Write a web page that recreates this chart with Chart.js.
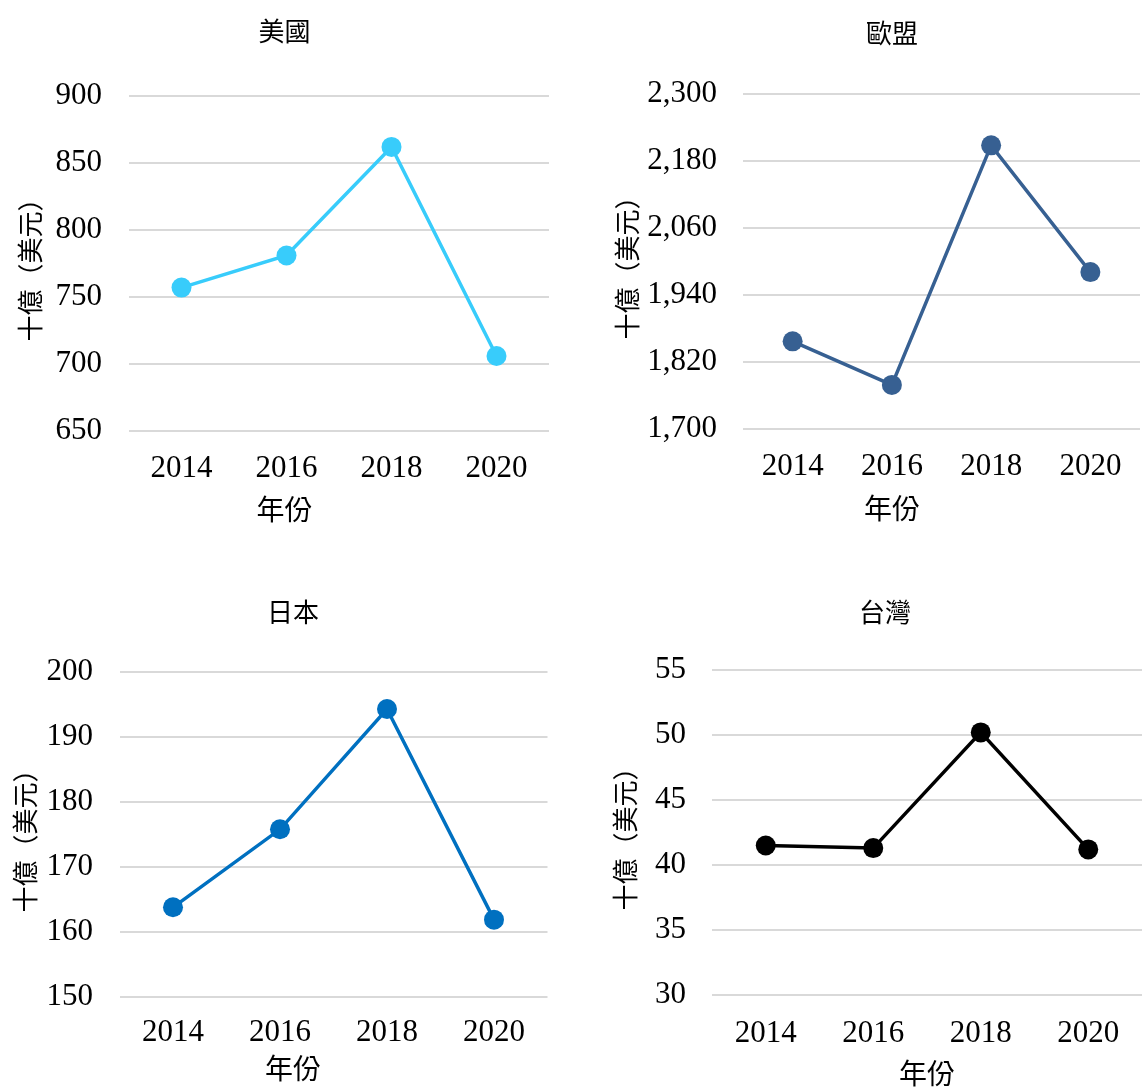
<!DOCTYPE html>
<html>
<head>
<meta charset="utf-8">
<script src="https://cdn.jsdelivr.net/npm/chart.js@4.4.0/dist/chart.umd.min.js"></script>
<style>
    html, body { margin: 0; padding: 0; background: #fff; overflow: hidden; width: 1143px; height: 1091px; }
    canvas { position: absolute; }
</style>
</head>
<body>
<canvas id="usChart" width="572" height="560" style="left:0px;top:0px"></canvas>
<canvas id="euChart" width="570" height="560" style="left:580px;top:0px"></canvas>
<canvas id="jpChart" width="572" height="511" style="left:0px;top:580px"></canvas>
<canvas id="twChart" width="572" height="511" style="left:580px;top:580px"></canvas>
<script>
var years = ['2014', '2016', '2018', '2020'];

var usValues = [757, 781, 862, 706];
var euValues = [1857, 1779, 2208, 1981];
var jpValues = [163.8, 175.8, 194.3, 161.9];
var twValues = [41.5, 41.3, 50.2, 41.2];

// y axis: min, max, step
var usRange = [650, 900, 50];
var euRange = [1700, 2300, 120];
var jpRange = [150, 200, 10];
var twRange = [30, 55, 5];

var yTitle = '十億（美元）';
var xTitle = '年份';

Chart.defaults.color = '#000';
Chart.defaults.font.family = "'Liberation Serif', 'Times New Roman', serif";
var cjkFont = "'Noto Sans CJK TC', 'Noto Sans CJK SC', sans-serif";

function DrawLineChart(id, title, values, range, color, lay) {
    var ctx = document.getElementById(id).getContext('2d');
    return new Chart(ctx, {
        type: 'line',
        data: {
            labels: years,
            datasets: [{
                data: values,
                borderColor: color,
                backgroundColor: color,
                pointBackgroundColor: color,
                borderWidth: 3.5,
                pointRadius: 10,
                pointHoverRadius: 10,
                pointBorderWidth: 0,
                tension: 0
            }]
        },
        options: {
            responsive: false,
            animation: false,
            locale: 'en-US',
            layout: {
                padding: { left: lay.padL, right: lay.padR, top: 0, bottom: lay.padB }
            },
            plugins: {
                legend: { display: false },
                tooltip: { enabled: false },
                title: {
                    display: true,
                    text: title,
                    font: { family: cjkFont, size: 26, weight: 'normal', lineHeight: 1.2 },
                    padding: { top: lay.titleTop, bottom: lay.titleBottom }
                },
                subtitle: {
                    display: !lay.xTitleOnScale,
                    position: 'bottom',
                    text: xTitle,
                    color: '#000',
                    font: { family: cjkFont, size: 28, weight: 'normal', lineHeight: 1.2 },
                    padding: { top: lay.subTop || 0, bottom: 0 }
                }
            },
            scales: {
                x: {
                    offset: true,
                    grid: { display: false, drawTicks: false },
                    border: { display: false },
                    ticks: { font: { size: 31 }, padding: lay.xPad, maxRotation: 0 },
                    title: {
                        display: !!lay.xTitleOnScale,
                        text: xTitle,
                        font: { family: cjkFont, size: 28, lineHeight: 1.2 },
                        padding: { top: 0, bottom: 0 }
                    },
                    afterFit: function (scale) { scale.height = lay.xHeight; }
                },
                y: {
                    min: range[0],
                    max: range[1],
                    grid: { color: '#d9d9d9', lineWidth: 2, drawTicks: false },
                    border: { display: false },
                    ticks: { stepSize: range[2], font: { size: 31 }, padding: lay.yPad },
                    title: {
                        display: true,
                        text: yTitle,
                        font: { family: cjkFont, size: 26, lineHeight: 1 },
                        padding: { top: lay.yTitlePad, bottom: 0 }
                    },
                    afterFit: function (scale) { scale.width = lay.yWidth; }
                }
            }
        }
    });
}

DrawLineChart('usChart', '美國', usValues, usRange, '#38ccfb', {
    padL: 20, padR: 23, padB: 34.2, yWidth: 109, yPad: 27, yTitlePad: -3,
    titleTop: 16, titleBottom: 48.8, xPad: 19, xHeight: 60, subTop: 1.2
});

DrawLineChart('euChart', '歐盟', euValues, euRange, '#376092', {
    padL: 59, padR: 5, padB: 35.2, yWidth: 104, yPad: 26, yTitlePad: -25,
    titleTop: 18, titleBottom: 44.8, xPad: 19.4, xHeight: 60, subTop: 2.2
});

DrawLineChart('jpChart', '日本', jpValues, jpRange, '#0070c0', {
    padL: 38.5, padR: 24.5, padB: 6.2, yWidth: 81, yPad: 26.5, yTitlePad: -26.5,
    titleTop: 17, titleBottom: 43.8, xPad: 17.4, xHeight: 52, subTop: 2.2
});

DrawLineChart('twChart', '台灣', twValues, twRange, '#000000', {
    padL: 44, padR: 6, padB: 1, yWidth: 88, yPad: 26, yTitlePad: -12,
    titleTop: 16.5, titleBottom: 42.3, xPad: 19.9, xHeight: 95, xTitleOnScale: true
});
</script>
</body>
</html>
